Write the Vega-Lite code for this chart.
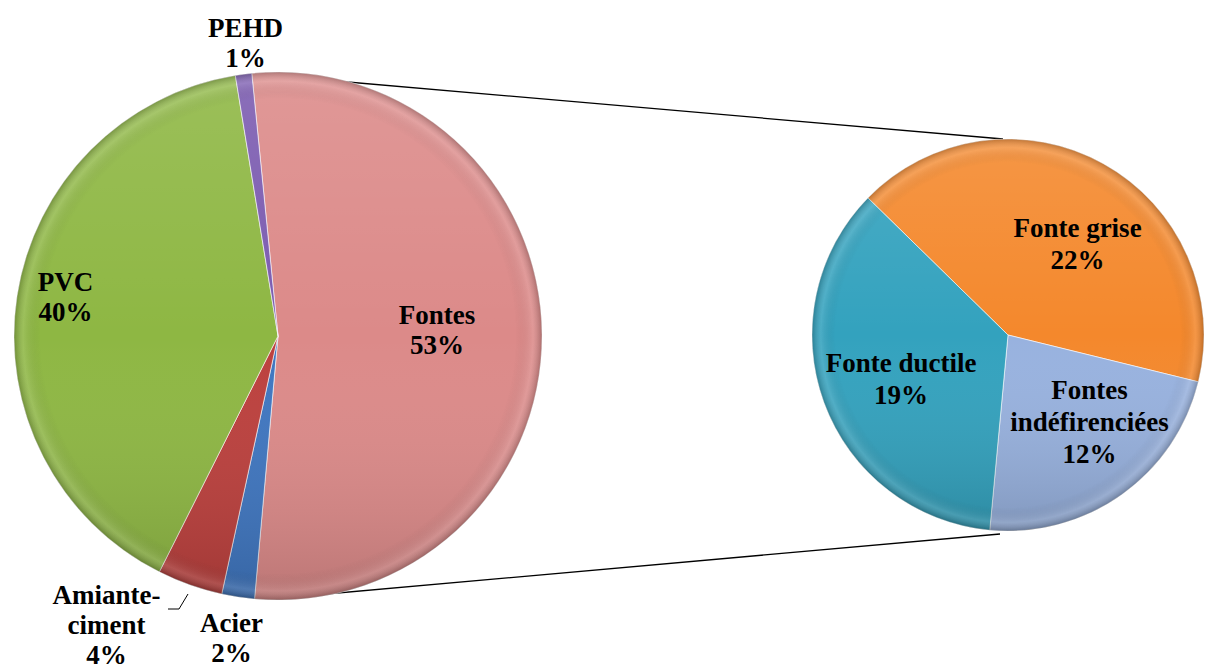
{
  "$schema": "https://vega.github.io/schema/vega-lite/v6.json",
  "width": 1207,
  "height": 668,
  "autosize": {"type": "none"},
  "padding": 0,
  "background": "#ffffff",
  "config": {"view": {"stroke": null}},
  "datasets": {
    "main": [
      {"k": "Fontes", "v": 53, "i": 1, "lab": "Fontes\n53%"},
      {"k": "Acier", "v": 2, "i": 2, "lab": "Acier\n2%"},
      {"k": "Amiante-ciment", "v": 4, "i": 3, "lab": "Amiante-\nciment\n4%"},
      {"k": "PVC", "v": 40, "i": 4, "lab": "PVC\n40%"},
      {"k": "PEHD", "v": 1, "i": 5, "lab": "PEHD\n1%"}
    ],
    "fontes": [
      {"k": "Fonte grise", "v": 22, "i": 1, "lab": "Fonte grise\n22%"},
      {"k": "Fontes indéfirenciées", "v": 12, "i": 2, "lab": "Fontes\nindéfirenciées\n12%"},
      {"k": "Fonte ductile", "v": 19, "i": 3, "lab": "Fonte ductile\n19%"}
    ]
  },
  "layer": [
    {
      "data": {"values": [{}]},
      "layer": [
        {
          "mark": {"type": "rule", "color": "#000000", "strokeWidth": 1.3},
          "encoding": {
            "x": {"datum": 336, "type": "quantitative", "scale": {"domain": [0, 1207], "nice": false, "zero": false}, "axis": null},
            "y": {"datum": 81, "type": "quantitative", "scale": {"domain": [0, 668], "reverse": true, "nice": false, "zero": false}, "axis": null},
            "x2": {"datum": 1003},
            "y2": {"datum": 139}
          }
        },
        {
          "mark": {"type": "rule", "color": "#000000", "strokeWidth": 1.3},
          "encoding": {
            "x": {"datum": 304, "type": "quantitative", "scale": {"domain": [0, 1207], "nice": false, "zero": false}, "axis": null},
            "y": {"datum": 596, "type": "quantitative", "scale": {"domain": [0, 668], "reverse": true, "nice": false, "zero": false}, "axis": null},
            "x2": {"datum": 1000},
            "y2": {"datum": 534}
          }
        }
      ]
    },
    {
      "layer": [
        {
          "data": {"name": "main"},
          "mark": {"type": "arc", "outerRadius": 264, "stroke": "#ffffff", "strokeWidth": 1, "strokeOpacity": 0.6},
          "encoding": {
            "x": {"datum": 278, "type": "quantitative", "scale": {"domain": [0, 1207], "nice": false, "zero": false}, "axis": null},
            "y": {"datum": 336, "type": "quantitative", "scale": {"domain": [0, 668], "reverse": true, "nice": false, "zero": false}, "axis": null},
            "theta": {"field": "v", "type": "quantitative", "stack": true, "scale": {"range": [-0.0995, 6.1837], "nice": false}},
            "order": {"field": "i", "type": "quantitative"},
            "color": {
              "field": "k", "type": "nominal", "legend": null,
              "scale": {
                "domain": ["Fontes", "Acier", "Amiante-ciment", "PVC", "PEHD", "Fonte grise", "Fontes indéfirenciées", "Fonte ductile"],
                "range": ["#DC8A89", "#3F76C0", "#BC403D", "#8EB743", "#7B5BB0", "#F4882C", "#98B2DF", "#33A2BE"]
              }
            }
          }
        },
        {
          "data": {"values": [{}]},
          "mark": {
            "type": "arc", "outerRadius": 264, "theta": 0, "theta2": 6.2832,
            "fill": {"gradient": "linear", "x1": 0, "y1": 0, "x2": 0, "y2": 1,
              "stops": [
                {"offset": 0, "color": "rgba(255,255,255,0.12)"},
                {"offset": 0.5, "color": "rgba(255,255,255,0)"},
                {"offset": 1, "color": "rgba(0,0,0,0.15)"}
              ]}
          },
          "encoding": {
            "x": {"datum": 278, "type": "quantitative", "scale": {"domain": [0, 1207], "nice": false, "zero": false}, "axis": null},
            "y": {"datum": 336, "type": "quantitative", "scale": {"domain": [0, 668], "reverse": true, "nice": false, "zero": false}, "axis": null}
          }
        },
        {
          "data": {"values": [{}]},
          "mark": {
            "type": "arc", "outerRadius": 264, "theta": 0, "theta2": 6.2832,
            "fill": {"gradient": "radial", "x1": 0.5, "y1": 0.5, "r1": 0, "x2": 0.5, "y2": 0.5, "r2": 0.5,
              "stops": [
                {"offset": 0, "color": "rgba(0,0,0,0)"},
                {"offset": 0.9, "color": "rgba(0,0,0,0)"},
                {"offset": 0.965, "color": "rgba(255,255,255,0.12)"},
                {"offset": 1, "color": "rgba(0,0,0,0.22)"}
              ]}
          },
          "encoding": {
            "x": {"datum": 278, "type": "quantitative", "scale": {"domain": [0, 1207], "nice": false, "zero": false}, "axis": null},
            "y": {"datum": 336, "type": "quantitative", "scale": {"domain": [0, 668], "reverse": true, "nice": false, "zero": false}, "axis": null}
          }
        },
        {
          "data": {"name": "main"},
          "mark": {
            "type": "text", "font": "'Liberation Serif', 'Times New Roman', 'DejaVu Serif', serif", "fontWeight": "bold", "fontSize": 27, "lineHeight": 30,
            "lineBreak": "\n", "color": "#000000", "align": "center", "baseline": "middle",
            "radius": {"expr": "datum.k == 'Fontes' ? 159 : datum.k == 'PVC' ? 215 : datum.k == 'PEHD' ? 295 : datum.k == 'Acier' ? 307 : 313"},
            "dx": {"expr": "datum.k == 'PEHD' ? 6 : datum.k == 'Amiante-ciment' ? -67 : 0"},
            "dy": {"expr": "datum.k == 'Fontes' ? -19 : datum.k == 'PVC' ? -20 : datum.k == 'Amiante-ciment' ? -35 : -15"}
          },
          "encoding": {
            "x": {"datum": 278, "type": "quantitative", "scale": {"domain": [0, 1207], "nice": false, "zero": false}, "axis": null},
            "y": {"datum": 336, "type": "quantitative", "scale": {"domain": [0, 668], "reverse": true, "nice": false, "zero": false}, "axis": null},
            "theta": {"field": "v", "type": "quantitative", "stack": true, "scale": {"range": [-0.0995, 6.1837], "nice": false}},
            "order": {"field": "i", "type": "quantitative"},
            "text": {"field": "lab", "type": "nominal"}
          }
        },
        {
          "data": {"values": [{}]},
          "mark": {"type": "rule", "color": "#000000", "strokeWidth": 1},
          "encoding": {
            "x": {"datum": 168, "type": "quantitative", "scale": {"domain": [0, 1207], "nice": false, "zero": false}, "axis": null},
            "y": {"datum": 609, "type": "quantitative", "scale": {"domain": [0, 668], "reverse": true, "nice": false, "zero": false}, "axis": null},
            "x2": {"datum": 179},
            "y2": {"datum": 609}
          }
        },
        {
          "data": {"values": [{}]},
          "mark": {"type": "rule", "color": "#000000", "strokeWidth": 1},
          "encoding": {
            "x": {"datum": 179, "type": "quantitative", "scale": {"domain": [0, 1207], "nice": false, "zero": false}, "axis": null},
            "y": {"datum": 609, "type": "quantitative", "scale": {"domain": [0, 668], "reverse": true, "nice": false, "zero": false}, "axis": null},
            "x2": {"datum": 188},
            "y2": {"datum": 594}
          }
        }
      ]
    },
    {
      "layer": [
        {
          "data": {"name": "fontes"},
          "mark": {"type": "arc", "outerRadius": 196, "stroke": "#ffffff", "strokeWidth": 1, "strokeOpacity": 0.6},
          "encoding": {
            "x": {"datum": 1008, "type": "quantitative", "scale": {"domain": [0, 1207], "nice": false, "zero": false}, "axis": null},
            "y": {"datum": 335, "type": "quantitative", "scale": {"domain": [0, 668], "reverse": true, "nice": false, "zero": false}, "axis": null},
            "theta": {"field": "v", "type": "quantitative", "stack": true, "scale": {"range": [-0.796, 5.4872], "nice": false}},
            "order": {"field": "i", "type": "quantitative"},
            "color": {
              "field": "k", "type": "nominal", "legend": null,
              "scale": {
                "domain": ["Fontes", "Acier", "Amiante-ciment", "PVC", "PEHD", "Fonte grise", "Fontes indéfirenciées", "Fonte ductile"],
                "range": ["#DC8A89", "#3F76C0", "#BC403D", "#8EB743", "#7B5BB0", "#F4882C", "#98B2DF", "#33A2BE"]
              }
            }
          }
        },
        {
          "data": {"values": [{}]},
          "mark": {
            "type": "arc", "outerRadius": 196, "theta": 0, "theta2": 6.2832,
            "fill": {"gradient": "linear", "x1": 0, "y1": 0, "x2": 0, "y2": 1,
              "stops": [
                {"offset": 0, "color": "rgba(255,255,255,0.12)"},
                {"offset": 0.5, "color": "rgba(255,255,255,0)"},
                {"offset": 1, "color": "rgba(0,0,0,0.15)"}
              ]}
          },
          "encoding": {
            "x": {"datum": 1008, "type": "quantitative", "scale": {"domain": [0, 1207], "nice": false, "zero": false}, "axis": null},
            "y": {"datum": 335, "type": "quantitative", "scale": {"domain": [0, 668], "reverse": true, "nice": false, "zero": false}, "axis": null}
          }
        },
        {
          "data": {"values": [{}]},
          "mark": {
            "type": "arc", "outerRadius": 196, "theta": 0, "theta2": 6.2832,
            "fill": {"gradient": "radial", "x1": 0.5, "y1": 0.5, "r1": 0, "x2": 0.5, "y2": 0.5, "r2": 0.5,
              "stops": [
                {"offset": 0, "color": "rgba(0,0,0,0)"},
                {"offset": 0.88, "color": "rgba(0,0,0,0)"},
                {"offset": 0.955, "color": "rgba(255,255,255,0.12)"},
                {"offset": 1, "color": "rgba(0,0,0,0.22)"}
              ]}
          },
          "encoding": {
            "x": {"datum": 1008, "type": "quantitative", "scale": {"domain": [0, 1207], "nice": false, "zero": false}, "axis": null},
            "y": {"datum": 335, "type": "quantitative", "scale": {"domain": [0, 668], "reverse": true, "nice": false, "zero": false}, "axis": null}
          }
        },
        {
          "data": {"name": "fontes"},
          "mark": {
            "type": "text", "font": "'Liberation Serif', 'Times New Roman', 'DejaVu Serif', serif", "fontWeight": "bold", "fontSize": 27, "lineHeight": 32,
            "lineBreak": "\n", "color": "#000000", "align": "center", "baseline": "middle",
            "radius": {"expr": "datum.k == 'Fonte grise' ? 110 : datum.k == 'Fonte ductile' ? 116 : 120"},
            "dx": {"expr": "datum.k == 'Fonte grise' ? 16 : datum.k == 'Fonte ductile' ? 2 : 12"},
            "dy": {"expr": "datum.k == 'Fonte grise' ? -10 : datum.k == 'Fonte ductile' ? -11 : -42"}
          },
          "encoding": {
            "x": {"datum": 1008, "type": "quantitative", "scale": {"domain": [0, 1207], "nice": false, "zero": false}, "axis": null},
            "y": {"datum": 335, "type": "quantitative", "scale": {"domain": [0, 668], "reverse": true, "nice": false, "zero": false}, "axis": null},
            "theta": {"field": "v", "type": "quantitative", "stack": true, "scale": {"range": [-0.796, 5.4872], "nice": false}},
            "order": {"field": "i", "type": "quantitative"},
            "text": {"field": "lab", "type": "nominal"}
          }
        }
      ]
    }
  ],
  "resolve": {"scale": {"theta": "independent"}}
}
